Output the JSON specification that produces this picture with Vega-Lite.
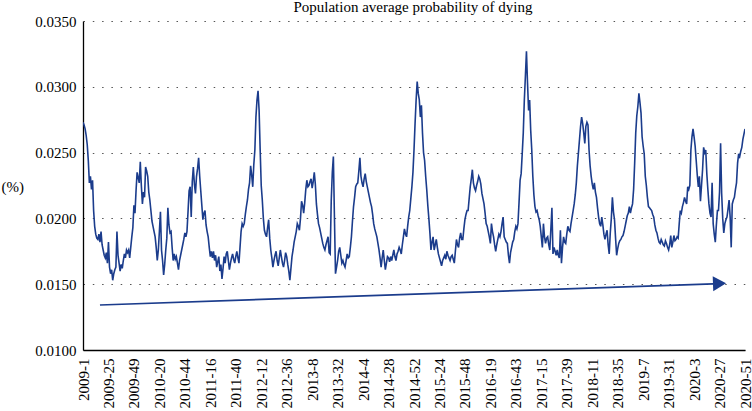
{
  "$schema": "https://vega.github.io/schema/vega-lite/v6.json",
  "width": 662,
  "height": 329,
  "autosize": {"type": "none"},
  "padding": {"left": 83, "top": 21, "right": 7, "bottom": 61},
  "background": "white",
  "config": {
    "view": {"stroke": null},
    "font": "Liberation Serif"
  },
  "datasets": {
    "series": [
{"i":0,"v":0.0273},{"i":1,"v":0.0271},{"i":2,"v":0.0268},{"i":3,"v":0.0263},{"i":4,"v":0.0256},{"i":5,"v":0.0244},{"i":6,"v":0.0227},{"i":7,"v":0.0232},{"i":8,"v":0.0222},{"i":9,"v":0.0229},
{"i":10,"v":0.0206},{"i":11,"v":0.0194},{"i":12,"v":0.0188},{"i":13,"v":0.0185},{"i":14,"v":0.0184},{"i":15,"v":0.0188},{"i":16,"v":0.0182},{"i":17,"v":0.0190},{"i":18,"v":0.0180},{"i":19,"v":0.0176},
{"i":20,"v":0.0172},{"i":21,"v":0.0170},{"i":22,"v":0.0174},{"i":23,"v":0.0166},{"i":24,"v":0.0182},{"i":25,"v":0.0163},{"i":26,"v":0.0158},{"i":27,"v":0.0161},{"i":28,"v":0.0153},{"i":29,"v":0.0158},
{"i":30,"v":0.0161},{"i":31,"v":0.0163},{"i":32,"v":0.0190},{"i":33,"v":0.0172},{"i":34,"v":0.0166},{"i":35,"v":0.0160},{"i":36,"v":0.0165},{"i":37,"v":0.0162},{"i":38,"v":0.0168},{"i":39,"v":0.0173},
{"i":40,"v":0.0170},{"i":41,"v":0.0176},{"i":42,"v":0.0174},{"i":43,"v":0.0176},{"i":44,"v":0.0170},{"i":45,"v":0.0178},{"i":46,"v":0.0186},{"i":47,"v":0.0193},{"i":48,"v":0.0210},{"i":49,"v":0.0204},
{"i":50,"v":0.0221},{"i":51,"v":0.0235},{"i":52,"v":0.0231},{"i":53,"v":0.0227},{"i":54,"v":0.0243},{"i":55,"v":0.0225},{"i":56,"v":0.0211},{"i":57,"v":0.0220},{"i":58,"v":0.0216},{"i":59,"v":0.0239},
{"i":60,"v":0.0236},{"i":61,"v":0.0232},{"i":62,"v":0.0220},{"i":63,"v":0.0214},{"i":64,"v":0.0206},{"i":65,"v":0.0198},{"i":66,"v":0.0194},{"i":67,"v":0.0190},{"i":68,"v":0.0186},{"i":69,"v":0.0178},
{"i":70,"v":0.0168},{"i":71,"v":0.0176},{"i":72,"v":0.0190},{"i":73,"v":0.0205},{"i":74,"v":0.0176},{"i":75,"v":0.0168},{"i":76,"v":0.0157},{"i":77,"v":0.0165},{"i":78,"v":0.0176},{"i":79,"v":0.0185},
{"i":80,"v":0.0208},{"i":81,"v":0.0195},{"i":82,"v":0.0189},{"i":83,"v":0.0190},{"i":84,"v":0.0178},{"i":85,"v":0.0168},{"i":86,"v":0.0173},{"i":87,"v":0.0169},{"i":88,"v":0.0171},{"i":89,"v":0.0166},
{"i":90,"v":0.0161},{"i":91,"v":0.0168},{"i":92,"v":0.0172},{"i":93,"v":0.0176},{"i":94,"v":0.0180},{"i":95,"v":0.0184},{"i":96,"v":0.0189},{"i":97,"v":0.0186},{"i":98,"v":0.0190},{"i":99,"v":0.0205},
{"i":100,"v":0.0221},{"i":101,"v":0.0224},{"i":102,"v":0.0201},{"i":103,"v":0.0228},{"i":104,"v":0.0239},{"i":105,"v":0.0226},{"i":106,"v":0.0219},{"i":107,"v":0.0232},{"i":108,"v":0.0238},{"i":109,"v":0.0246},
{"i":110,"v":0.0232},{"i":111,"v":0.0221},{"i":112,"v":0.0210},{"i":113,"v":0.0199},{"i":114,"v":0.0204},{"i":115,"v":0.0206},{"i":116,"v":0.0195},{"i":117,"v":0.0190},{"i":118,"v":0.0186},{"i":119,"v":0.0178},
{"i":120,"v":0.0171},{"i":121,"v":0.0175},{"i":122,"v":0.0170},{"i":123,"v":0.0175},{"i":124,"v":0.0168},{"i":125,"v":0.0172},{"i":126,"v":0.0163},{"i":127,"v":0.0167},{"i":128,"v":0.0171},{"i":129,"v":0.0160},
{"i":130,"v":0.0165},{"i":131,"v":0.0154},{"i":132,"v":0.0162},{"i":133,"v":0.0171},{"i":134,"v":0.0166},{"i":135,"v":0.0173},{"i":136,"v":0.0175},{"i":137,"v":0.0168},{"i":138,"v":0.0161},{"i":139,"v":0.0166},
{"i":140,"v":0.0170},{"i":141,"v":0.0173},{"i":142,"v":0.0169},{"i":143,"v":0.0166},{"i":144,"v":0.0171},{"i":145,"v":0.0175},{"i":146,"v":0.0170},{"i":147,"v":0.0166},{"i":148,"v":0.0178},{"i":149,"v":0.0190},
{"i":150,"v":0.0196},{"i":151,"v":0.0194},{"i":152,"v":0.0196},{"i":153,"v":0.0203},{"i":154,"v":0.0209},{"i":155,"v":0.0214},{"i":156,"v":0.0222},{"i":157,"v":0.0227},{"i":158,"v":0.0240},{"i":159,"v":0.0233},
{"i":160,"v":0.0224},{"i":161,"v":0.0241},{"i":162,"v":0.0252},{"i":163,"v":0.0277},{"i":164,"v":0.0290},{"i":165,"v":0.0297},{"i":166,"v":0.0282},{"i":167,"v":0.0252},{"i":168,"v":0.0225},{"i":169,"v":0.0214},
{"i":170,"v":0.0200},{"i":171,"v":0.0191},{"i":172,"v":0.0188},{"i":173,"v":0.0186},{"i":174,"v":0.0193},{"i":175,"v":0.0199},{"i":176,"v":0.0185},{"i":177,"v":0.0176},{"i":178,"v":0.0170},{"i":179,"v":0.0163},
{"i":180,"v":0.0168},{"i":181,"v":0.0172},{"i":182,"v":0.0175},{"i":183,"v":0.0168},{"i":184,"v":0.0164},{"i":185,"v":0.0170},{"i":186,"v":0.0176},{"i":187,"v":0.0171},{"i":188,"v":0.0166},{"i":189,"v":0.0163},
{"i":190,"v":0.0168},{"i":191,"v":0.0174},{"i":192,"v":0.0171},{"i":193,"v":0.0165},{"i":194,"v":0.0160},{"i":195,"v":0.0153},{"i":196,"v":0.0162},{"i":197,"v":0.0171},{"i":198,"v":0.0176},{"i":199,"v":0.0182},
{"i":200,"v":0.0186},{"i":201,"v":0.0190},{"i":202,"v":0.0196},{"i":203,"v":0.0194},{"i":204,"v":0.0191},{"i":205,"v":0.0200},{"i":206,"v":0.0213},{"i":207,"v":0.0210},{"i":208,"v":0.0204},{"i":209,"v":0.0212},
{"i":210,"v":0.0222},{"i":211,"v":0.0229},{"i":212,"v":0.0224},{"i":213,"v":0.0225},{"i":214,"v":0.0228},{"i":215,"v":0.0230},{"i":216,"v":0.0223},{"i":217,"v":0.0228},{"i":218,"v":0.0235},{"i":219,"v":0.0226},
{"i":220,"v":0.0211},{"i":221,"v":0.0203},{"i":222,"v":0.0196},{"i":223,"v":0.0193},{"i":224,"v":0.0189},{"i":225,"v":0.0185},{"i":226,"v":0.0181},{"i":227,"v":0.0178},{"i":228,"v":0.0176},{"i":229,"v":0.0180},
{"i":230,"v":0.0183},{"i":231,"v":0.0186},{"i":232,"v":0.0174},{"i":233,"v":0.0173},{"i":234,"v":0.0214},{"i":235,"v":0.0235},{"i":236,"v":0.0247},{"i":237,"v":0.0201},{"i":238,"v":0.0158},{"i":239,"v":0.0163},
{"i":240,"v":0.0168},{"i":241,"v":0.0175},{"i":242,"v":0.0178},{"i":243,"v":0.0172},{"i":244,"v":0.0166},{"i":245,"v":0.0168},{"i":246,"v":0.0165},{"i":247,"v":0.0163},{"i":248,"v":0.0168},{"i":249,"v":0.0173},
{"i":250,"v":0.0170},{"i":251,"v":0.0171},{"i":252,"v":0.0178},{"i":253,"v":0.0186},{"i":254,"v":0.0198},{"i":255,"v":0.0209},{"i":256,"v":0.0216},{"i":257,"v":0.0224},{"i":258,"v":0.0226},{"i":259,"v":0.0227},
{"i":260,"v":0.0236},{"i":261,"v":0.0246},{"i":262,"v":0.0232},{"i":263,"v":0.0227},{"i":264,"v":0.0224},{"i":265,"v":0.0230},{"i":266,"v":0.0234},{"i":267,"v":0.0228},{"i":268,"v":0.0224},{"i":269,"v":0.0220},
{"i":270,"v":0.0216},{"i":271,"v":0.0212},{"i":272,"v":0.0209},{"i":273,"v":0.0203},{"i":274,"v":0.0196},{"i":275,"v":0.0192},{"i":276,"v":0.0189},{"i":277,"v":0.0186},{"i":278,"v":0.0181},{"i":279,"v":0.0176},
{"i":280,"v":0.0170},{"i":281,"v":0.0163},{"i":282,"v":0.0170},{"i":283,"v":0.0176},{"i":284,"v":0.0168},{"i":285,"v":0.0161},{"i":286,"v":0.0166},{"i":287,"v":0.0171},{"i":288,"v":0.0170},{"i":289,"v":0.0167},
{"i":290,"v":0.0171},{"i":291,"v":0.0168},{"i":292,"v":0.0172},{"i":293,"v":0.0176},{"i":294,"v":0.0171},{"i":295,"v":0.0168},{"i":296,"v":0.0173},{"i":297,"v":0.0175},{"i":298,"v":0.0178},{"i":299,"v":0.0176},
{"i":300,"v":0.0173},{"i":301,"v":0.0180},{"i":302,"v":0.0186},{"i":303,"v":0.0192},{"i":304,"v":0.0188},{"i":305,"v":0.0186},{"i":306,"v":0.0194},{"i":307,"v":0.0201},{"i":308,"v":0.0206},{"i":309,"v":0.0215},
{"i":310,"v":0.0224},{"i":311,"v":0.0235},{"i":312,"v":0.0252},{"i":313,"v":0.0272},{"i":314,"v":0.0290},{"i":315,"v":0.0304},{"i":316,"v":0.0295},{"i":317,"v":0.0290},{"i":318,"v":0.0277},{"i":319,"v":0.0286},
{"i":320,"v":0.0265},{"i":321,"v":0.0250},{"i":322,"v":0.0244},{"i":323,"v":0.0232},{"i":324,"v":0.0222},{"i":325,"v":0.0210},{"i":326,"v":0.0200},{"i":327,"v":0.0189},{"i":328,"v":0.0176},{"i":329,"v":0.0182},
{"i":330,"v":0.0186},{"i":331,"v":0.0176},{"i":332,"v":0.0180},{"i":333,"v":0.0184},{"i":334,"v":0.0178},{"i":335,"v":0.0173},{"i":336,"v":0.0170},{"i":337,"v":0.0167},{"i":338,"v":0.0164},{"i":339,"v":0.0168},
{"i":340,"v":0.0170},{"i":341,"v":0.0172},{"i":342,"v":0.0169},{"i":343,"v":0.0175},{"i":344,"v":0.0172},{"i":345,"v":0.0170},{"i":346,"v":0.0168},{"i":347,"v":0.0171},{"i":348,"v":0.0172},{"i":349,"v":0.0169},
{"i":350,"v":0.0166},{"i":351,"v":0.0175},{"i":352,"v":0.0184},{"i":353,"v":0.0180},{"i":354,"v":0.0178},{"i":355,"v":0.0185},{"i":356,"v":0.0189},{"i":357,"v":0.0184},{"i":358,"v":0.0184},{"i":359,"v":0.0192},
{"i":360,"v":0.0199},{"i":361,"v":0.0203},{"i":362,"v":0.0206},{"i":363,"v":0.0206},{"i":364,"v":0.0215},{"i":365,"v":0.0224},{"i":366,"v":0.0230},{"i":367,"v":0.0237},{"i":368,"v":0.0227},{"i":369,"v":0.0223},
{"i":370,"v":0.0221},{"i":371,"v":0.0225},{"i":372,"v":0.0228},{"i":373,"v":0.0232},{"i":374,"v":0.0230},{"i":375,"v":0.0226},{"i":376,"v":0.0219},{"i":377,"v":0.0215},{"i":378,"v":0.0211},{"i":379,"v":0.0204},
{"i":380,"v":0.0196},{"i":381,"v":0.0194},{"i":382,"v":0.0190},{"i":383,"v":0.0186},{"i":384,"v":0.0181},{"i":385,"v":0.0196},{"i":386,"v":0.0190},{"i":387,"v":0.0186},{"i":388,"v":0.0180},{"i":389,"v":0.0175},
{"i":390,"v":0.0180},{"i":391,"v":0.0184},{"i":392,"v":0.0188},{"i":393,"v":0.0186},{"i":394,"v":0.0190},{"i":395,"v":0.0196},{"i":396,"v":0.0201},{"i":397,"v":0.0186},{"i":398,"v":0.0184},{"i":399,"v":0.0182},
{"i":400,"v":0.0181},{"i":401,"v":0.0172},{"i":402,"v":0.0166},{"i":403,"v":0.0174},{"i":404,"v":0.0178},{"i":405,"v":0.0182},{"i":406,"v":0.0184},{"i":407,"v":0.0190},{"i":408,"v":0.0194},{"i":409,"v":0.0192},
{"i":410,"v":0.0196},{"i":411,"v":0.0212},{"i":412,"v":0.0229},{"i":413,"v":0.0234},{"i":414,"v":0.0249},{"i":415,"v":0.0265},{"i":416,"v":0.0290},{"i":417,"v":0.0308},{"i":418,"v":0.0327},{"i":419,"v":0.0303},
{"i":420,"v":0.0282},{"i":421,"v":0.0290},{"i":422,"v":0.0267},{"i":423,"v":0.0252},{"i":424,"v":0.0232},{"i":425,"v":0.0218},{"i":426,"v":0.0209},{"i":427,"v":0.0205},{"i":428,"v":0.0206},{"i":429,"v":0.0202},
{"i":430,"v":0.0199},{"i":431,"v":0.0194},{"i":432,"v":0.0186},{"i":433,"v":0.0178},{"i":434,"v":0.0196},{"i":435,"v":0.0186},{"i":436,"v":0.0181},{"i":437,"v":0.0185},{"i":438,"v":0.0186},{"i":439,"v":0.0180},
{"i":440,"v":0.0176},{"i":441,"v":0.0192},{"i":442,"v":0.0208},{"i":443,"v":0.0173},{"i":444,"v":0.0178},{"i":445,"v":0.0175},{"i":446,"v":0.0172},{"i":447,"v":0.0176},{"i":448,"v":0.0172},{"i":449,"v":0.0170},
{"i":450,"v":0.0191},{"i":451,"v":0.0166},{"i":452,"v":0.0178},{"i":453,"v":0.0186},{"i":454,"v":0.0182},{"i":455,"v":0.0181},{"i":456,"v":0.0188},{"i":457,"v":0.0194},{"i":458,"v":0.0191},{"i":459,"v":0.0190},
{"i":460,"v":0.0196},{"i":461,"v":0.0201},{"i":462,"v":0.0206},{"i":463,"v":0.0211},{"i":464,"v":0.0218},{"i":465,"v":0.0227},{"i":466,"v":0.0240},{"i":467,"v":0.0250},{"i":468,"v":0.0260},{"i":469,"v":0.0270},
{"i":470,"v":0.0277},{"i":471,"v":0.0272},{"i":472,"v":0.0265},{"i":473,"v":0.0257},{"i":474,"v":0.0270},{"i":475,"v":0.0273},{"i":476,"v":0.0271},{"i":477,"v":0.0252},{"i":478,"v":0.0240},{"i":479,"v":0.0232},
{"i":480,"v":0.0226},{"i":481,"v":0.0222},{"i":482,"v":0.0227},{"i":483,"v":0.0220},{"i":484,"v":0.0216},{"i":485,"v":0.0208},{"i":486,"v":0.0201},{"i":487,"v":0.0196},{"i":488,"v":0.0194},{"i":489,"v":0.0201},
{"i":490,"v":0.0195},{"i":491,"v":0.0188},{"i":492,"v":0.0184},{"i":493,"v":0.0188},{"i":494,"v":0.0191},{"i":495,"v":0.0180},{"i":496,"v":0.0173},{"i":497,"v":0.0189},{"i":498,"v":0.0200},{"i":499,"v":0.0216},
{"i":500,"v":0.0205},{"i":501,"v":0.0199},{"i":502,"v":0.0185},{"i":503,"v":0.0172},{"i":504,"v":0.0177},{"i":505,"v":0.0181},{"i":506,"v":0.0183},{"i":507,"v":0.0184},{"i":508,"v":0.0186},{"i":509,"v":0.0187},
{"i":510,"v":0.0190},{"i":511,"v":0.0194},{"i":512,"v":0.0198},{"i":513,"v":0.0202},{"i":514,"v":0.0204},{"i":515,"v":0.0209},{"i":516,"v":0.0204},{"i":517,"v":0.0208},{"i":518,"v":0.0211},{"i":519,"v":0.0222},
{"i":520,"v":0.0242},{"i":521,"v":0.0265},{"i":522,"v":0.0278},{"i":523,"v":0.0285},{"i":524,"v":0.0295},{"i":525,"v":0.0288},{"i":526,"v":0.0280},{"i":527,"v":0.0262},{"i":528,"v":0.0255},{"i":529,"v":0.0249},
{"i":530,"v":0.0232},{"i":531,"v":0.0225},{"i":532,"v":0.0216},{"i":533,"v":0.0209},{"i":534,"v":0.0208},{"i":535,"v":0.0207},{"i":536,"v":0.0206},{"i":537,"v":0.0203},{"i":538,"v":0.0201},{"i":539,"v":0.0195},
{"i":540,"v":0.0191},{"i":541,"v":0.0189},{"i":542,"v":0.0185},{"i":543,"v":0.0182},{"i":544,"v":0.0181},{"i":545,"v":0.0184},{"i":546,"v":0.0182},{"i":547,"v":0.0180},{"i":548,"v":0.0179},{"i":549,"v":0.0183},
{"i":550,"v":0.0181},{"i":551,"v":0.0178},{"i":552,"v":0.0176},{"i":553,"v":0.0180},{"i":554,"v":0.0187},{"i":555,"v":0.0178},{"i":556,"v":0.0182},{"i":557,"v":0.0187},{"i":558,"v":0.0183},{"i":559,"v":0.0184},
{"i":560,"v":0.0186},{"i":561,"v":0.0185},{"i":562,"v":0.0196},{"i":563,"v":0.0206},{"i":564,"v":0.0204},{"i":565,"v":0.0209},{"i":566,"v":0.0212},{"i":567,"v":0.0216},{"i":568,"v":0.0213},{"i":569,"v":0.0211},
{"i":570,"v":0.0224},{"i":571,"v":0.0222},{"i":572,"v":0.0225},{"i":573,"v":0.0252},{"i":574,"v":0.0262},{"i":575,"v":0.0268},{"i":576,"v":0.0262},{"i":577,"v":0.0255},{"i":578,"v":0.0244},{"i":579,"v":0.0233},
{"i":580,"v":0.0224},{"i":581,"v":0.0232},{"i":582,"v":0.0213},{"i":583,"v":0.0225},{"i":584,"v":0.0237},{"i":585,"v":0.0254},{"i":586,"v":0.0250},{"i":587,"v":0.0252},{"i":588,"v":0.0234},{"i":589,"v":0.0222},
{"i":590,"v":0.0211},{"i":591,"v":0.0204},{"i":592,"v":0.0201},{"i":593,"v":0.0227},{"i":594,"v":0.0196},{"i":595,"v":0.0188},{"i":596,"v":0.0182},{"i":597,"v":0.0195},{"i":598,"v":0.0206},{"i":599,"v":0.0206},
{"i":600,"v":0.0220},{"i":601,"v":0.0257},{"i":602,"v":0.0219},{"i":603,"v":0.0200},{"i":604,"v":0.0189},{"i":605,"v":0.0196},{"i":606,"v":0.0199},{"i":607,"v":0.0201},{"i":608,"v":0.0207},{"i":609,"v":0.0214},
{"i":610,"v":0.0201},{"i":611,"v":0.0178},{"i":612,"v":0.0211},{"i":613,"v":0.0214},{"i":614,"v":0.0216},{"i":615,"v":0.0222},{"i":616,"v":0.0227},{"i":617,"v":0.0242},{"i":618,"v":0.0249},{"i":619,"v":0.0247},
{"i":620,"v":0.0251},{"i":621,"v":0.0254},{"i":622,"v":0.0260},{"i":623,"v":0.0264},{"i":624,"v":0.0268}
    ],
    "arrowLine": [{"i": 16, "v": 0.01342}, {"i": 594, "v": 0.01503}],
    "arrowHead": [{"i": 600, "v": 0.01505}],
    "titleNote": [{"i": 311, "v": 0.03568, "label": "Population average probability of dying"}]
  },
  "encoding": {
    "x": {
      "field": "i",
      "type": "quantitative",
      "scale": {"domain": [0, 624], "nice": false, "zero": false},
      "axis": {
        "title": null,
        "values": [0,24,48,72,96,120,144,168,192,216,240,264,288,312,336,360,384,408,432,456,480,504,528,552,576,600,624],
        "labelExpr": "['2009-1','2009-25','2009-49','2010-20','2010-44','2011-16','2011-40','2012-12','2012-36','2013-8','2013-32','2014-4','2014-28','2014-52','2015-24','2015-48','2016-19','2016-43','2017-15','2017-39','2018-11','2018-35','2019-7','2019-31','2020-3','2020-27','2020-51'][round(datum.value/24)]",
        "labelAngle": -90,
        "labelAlign": "right",
        "labelBaseline": "middle",
        "labelFont": "Liberation Serif",
        "labelFontSize": 15,
        "labelColor": "#000000",
        "labelPadding": 8,
        "labelOverlap": false,
        "labelBound": false,
        "labelFlush": false,
        "ticks": false,
        "grid": false,
        "domainColor": "#000000",
        "domainWidth": 1.3
      }
    },
    "y": {
      "field": "v",
      "type": "quantitative",
      "scale": {"domain": [0.01, 0.035], "nice": false, "zero": false},
      "axis": {
        "title": "(%)",
        "titleAngle": 0,
        "titleFont": "Liberation Serif",
        "titleFontSize": 15,
        "titleFontWeight": "normal",
        "titleColor": "#000000",
        "titleAlign": "left",
        "titleBaseline": "middle",
        "titleX": -82,
        "titleY": 165,
        "values": [0.01, 0.015, 0.02, 0.025, 0.03, 0.035],
        "format": ".4f",
        "labelFont": "Liberation Serif",
        "labelFontSize": 15,
        "labelColor": "#000000",
        "labelPadding": 7,
        "labelOverlap": false,
        "labelBound": false,
        "labelFlush": false,
        "ticks": false,
        "grid": true,
        "gridColor": "#555555",
        "gridDash": [1.5, 7.8],
        "gridWidth": 1.2,
        "domainColor": "#000000",
        "domainWidth": 1.3
      }
    }
  },
  "layer": [
    {
      "data": {"name": "series"},
      "mark": {"type": "line", "color": "#1b3c8c", "strokeWidth": 1.6, "clip": true}
    },
    {
      "data": {"name": "arrowLine"},
      "mark": {"type": "line", "color": "#1b3c8c", "strokeWidth": 1.7}
    },
    {
      "data": {"name": "arrowHead"},
      "mark": {"type": "point", "shape": "triangle-right", "filled": true, "color": "#1b3c8c", "opacity": 1, "size": 230, "angle": -2}
    },
    {
      "data": {"name": "titleNote"},
      "mark": {"type": "text", "font": "Liberation Serif", "fontSize": 15, "color": "#000000", "align": "center", "baseline": "alphabetic"},
      "encoding": {
        "text": {"field": "label", "type": "nominal"}
      }
    }
  ]
}
